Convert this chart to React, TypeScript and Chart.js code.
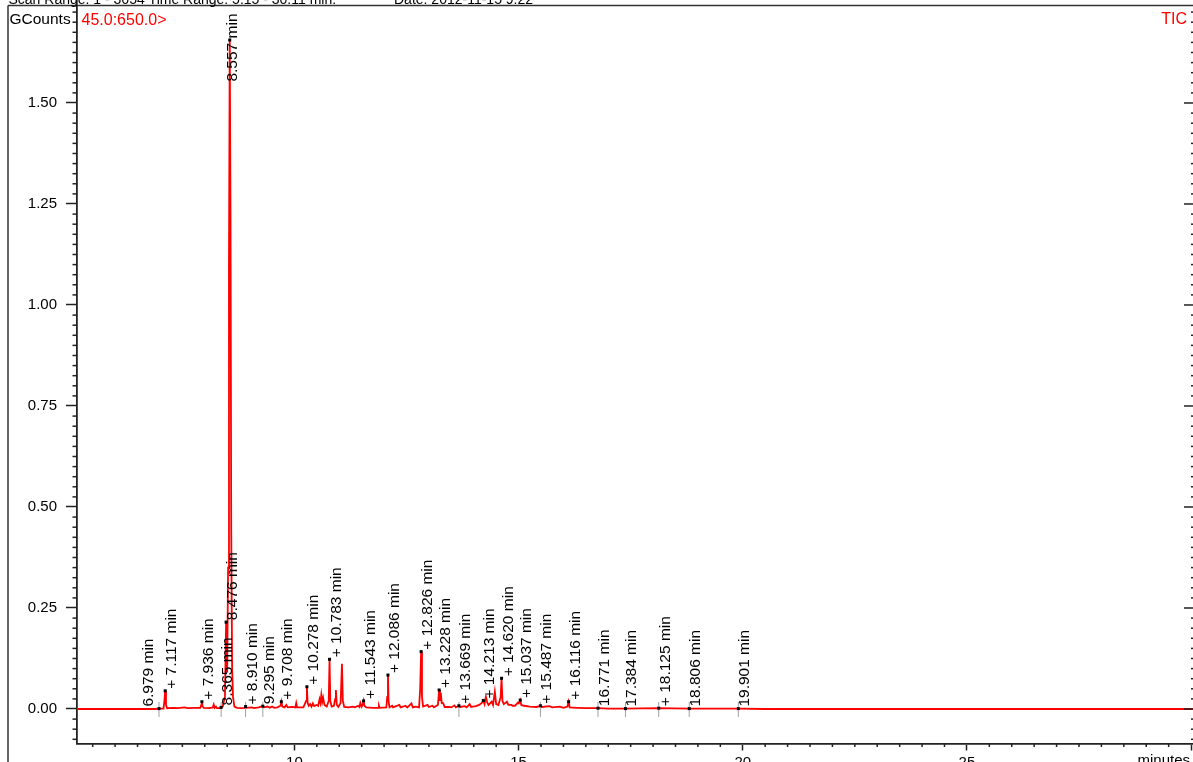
import { useEffect, useRef } from "react";
import { Chart, registerables } from "chart.js";

Chart.register(...registerables);

// ---- data ----
const traceTimes = [
  5.15, 6.9, 6.979, 7.08, 7.1, 7.117, 7.135, 7.16, 7.3, 7.4, 7.55, 7.62, 7.8, 7.9, 7.925, 7.936, 7.95, 7.98,
  8.1, 8.18, 8.2, 8.22, 8.25, 8.27, 8.34, 8.365, 8.4, 8.45, 8.476, 8.5, 8.52, 8.54, 8.557, 8.575, 8.59, 8.61,
  8.63, 8.66, 8.72, 8.8, 8.89, 8.91, 8.93, 9.05, 9.1, 9.2, 9.295, 9.32, 9.4, 9.45, 9.5, 9.55, 9.62, 9.69,
  9.708, 9.73, 9.78, 9.82, 9.85, 9.95, 10.02, 10.04, 10.06, 10.2, 10.26, 10.278, 10.295, 10.32, 10.35, 10.38,
  10.41, 10.44, 10.5, 10.53, 10.56, 10.58, 10.6, 10.62, 10.64, 10.67, 10.72, 10.765, 10.783, 10.8, 10.83,
  10.88, 10.91, 10.925, 10.945, 10.98, 11.03, 11.06, 11.08, 11.11, 11.2, 11.3, 11.35, 11.42, 11.45, 11.47,
  11.5, 11.525, 11.543, 11.56, 11.6, 11.75, 11.87, 11.885, 11.9, 12.05, 12.07, 12.086, 12.1, 12.12, 12.18,
  12.2, 12.34, 12.37, 12.48, 12.5, 12.52, 12.61, 12.64, 12.7, 12.78, 12.805, 12.826, 12.845, 12.87, 12.97,
  13.0, 13.08, 13.11, 13.2, 13.228, 13.245, 13.265, 13.285, 13.32, 13.35, 13.46, 13.5, 13.57, 13.6, 13.669,
  13.7, 13.8, 13.84, 13.91, 13.94, 13.98, 14.05, 14.12, 14.18, 14.213, 14.24, 14.27, 14.3, 14.33, 14.4,
  14.43, 14.47, 14.5, 14.55, 14.6, 14.62, 14.64, 14.67, 14.74, 14.77, 14.84, 14.87, 14.92, 14.985, 15.005,
  15.037, 15.06, 15.12, 15.25, 15.4, 15.487, 15.52, 15.69, 15.75, 15.92, 16.0, 16.09, 16.116, 16.14, 16.3,
  16.5, 16.771, 17.0, 17.384, 18.125, 18.806, 19.901, 20.5, 30.11,
];
const traceValues = [
  0, 0, 0.001, 0.001, 0.02, 0.045, 0.01, 0.002, 0.003, 0.002, 0.004, 0.002, 0.003, 0.003, 0.011, 0.018, 0.006, 0.003,
  0.002, 0.004, 0.011, 0.003, 0.006, 0.002, 0.002, 0.004, 0.006, 0.03, 0.215, 0.09, 0.35, 1.1, 1.656, 1.2, 0.45, 0.1,
  0.03, 0.006, 0.003, 0.002, 0.003, 0.006, 0.003, 0.004, 0.002, 0.004, 0.007, 0.004, 0.006, 0.003, 0.006, 0.003, 0.004, 0.008,
  0.018, 0.006, 0.004, 0.01, 0.004, 0.005, 0.004, 0.015, 0.004, 0.004, 0.02, 0.055, 0.015, 0.008, 0.012, 0.006,
  0.014, 0.007, 0.01, 0.008, 0.024, 0.015, 0.035, 0.018, 0.028, 0.01, 0.006, 0.02, 0.123, 0.02, 0.006,
  0.008, 0.025, 0.047, 0.01, 0.005, 0.015, 0.112, 0.02, 0.005, 0.004, 0.006, 0.004, 0.008, 0.005, 0.015,
  0.006, 0.012, 0.02, 0.008, 0.004, 0.003, 0.003, 0.008, 0.003, 0.004, 0.03, 0.084, 0.02, 0.004, 0.008,
  0.004, 0.01, 0.004, 0.008, 0.005, 0.004, 0.014, 0.004, 0.006, 0.004, 0.05, 0.142, 0.03, 0.006, 0.01,
  0.005, 0.008, 0.004, 0.01, 0.047, 0.02, 0.04, 0.015, 0.014, 0.005, 0.005, 0.004, 0.009, 0.004, 0.008,
  0.005, 0.007, 0.004, 0.012, 0.005, 0.006, 0.007, 0.01, 0.015, 0.021, 0.012, 0.03, 0.016, 0.01, 0.018,
  0.01, 0.043, 0.012, 0.01, 0.03, 0.076, 0.02, 0.012, 0.018, 0.01, 0.01, 0.008, 0.008, 0.016, 0.014,
  0.022, 0.01, 0.008, 0.006, 0.005, 0.008, 0.005, 0.007, 0.004, 0.006, 0.003, 0.006, 0.018, 0.004, 0.003,
  0.002, 0.002, 0.001, 0.001, 0.002, 0.001, 0.001, 0, 0,
];

const peakTimes = [
  6.979, 7.117, 7.936, 8.365, 8.476, 8.557, 8.91, 9.295, 9.708, 10.278, 10.783, 11.543, 12.086,
  12.826, 13.228, 13.669, 14.213, 14.62, 15.037, 15.487, 16.116, 16.771, 17.384, 18.125, 18.806, 19.901,
];
const peakPlus = [
  false, true, true, false, false, false, true, false, true, true, true, true, true,
  true, true, true, true, true, true, true, true, false, false, true, false, false,
];
const baselineMarkTimes = [6.979, 8.365, 8.91, 9.295, 13.669, 15.487, 16.771, 17.384, 18.125, 18.806, 19.901];

const xMajorTicks = [10, 15, 20, 25, 30];
const yMajorTicks = [0, 0.25, 0.5, 0.75, 1.0, 1.25, 1.5];
const X_MIN = 5.15;
const X_MAX = 30.11;
const Y_MIN = -0.0854;
const Y_MAX = 1.7413;

const headerScan = "Scan Range: 1 - 3654 Time Range: 5.15 - 30.11 min.";
const headerDate = "Date: 2012-11-15 9:22";
const yUnit = "GCounts";
const massRange = "45.0:650.0>";
const traceName = "TIC";
const xUnit = "minutes";

const FAMILY = "Arial, 'Liberation Sans', Helvetica, sans-serif";

function apexValue(t: number): number {
  let best = 0;
  let bd = Infinity;
  traceTimes.forEach((tt, i) => {
    const d = Math.abs(tt - t);
    if (d < bd) {
      bd = d;
      best = i;
    }
  });
  return traceValues[best];
}

const overlayPlugin = {
  id: "chromOverlay",
  afterDraw(chart: any) {
    const ctx: CanvasRenderingContext2D = chart.ctx;
    const a = chart.chartArea;
    const xs = chart.scales.x;
    const ys = chart.scales.y;
    const line = (x1: number, y1: number, x2: number, y2: number) => {
      ctx.beginPath();
      ctx.moveTo(x1, y1);
      ctx.lineTo(x2, y2);
      ctx.stroke();
    };
    ctx.save();

    // frame
    ctx.strokeStyle = "#333";
    ctx.lineWidth = 1.5;
    line(8, a.top, 8, 762);
    line(8, a.top, 1200, a.top);
    line(a.left, 0, a.left, a.top);

    // minor ticks + right-side ticks
    ctx.strokeStyle = "#222";
    ctx.lineWidth = 1.5;
    const yStep = 0.025;
    for (let k = Math.ceil(ys.min / yStep); k * yStep <= ys.max + 1e-9; k++) {
      const y = ys.getPixelForValue(k * yStep);
      const major = k % 10 === 0;
      if (!major) line(a.left - 4.5, y, a.left, y);
      line(a.right - (major ? 12 : 5), y, a.right, y);
    }
    const xStep = 0.5;
    for (let k = Math.ceil(xs.min / xStep); k * xStep <= xs.max + 1e-9; k++) {
      if (k % 10 === 0) continue;
      const x = xs.getPixelForValue(k * xStep);
      line(x, a.bottom, x, a.bottom + 3.5);
    }

    // baseline marks
    const y0 = ys.getPixelForValue(0);
    ctx.strokeStyle = "#a0a0a0";
    ctx.lineWidth = 1;
    for (const t of baselineMarkTimes) {
      const x = xs.getPixelForValue(t);
      line(x, y0 - 7, x, y0 + 8);
    }

    // peak labels
    ctx.font = `15.5px ${FAMILY}`;
    ctx.fillStyle = "#000";
    const placed: { x1: number; x2: number; y1: number; y2: number }[] = [];
    const order = peakTimes.map((_, i) => i).sort((p, q) => peakTimes[q] - peakTimes[p]);
    for (const i of order) {
      const t = peakTimes[i];
      const v = apexValue(t);
      const px = xs.getPixelForValue(t);
      const py = ys.getPixelForValue(v);
      ctx.fillRect(px - 1.5, py - 1.5, 3, 3);
      const text = (peakPlus[i] ? "+ " : "") + t.toFixed(3) + " min";
      const len = ctx.measureText(text).width;
      let start = py - 2;
      let base = px + 11;
      if (start - len < a.top + 8) {
        start = a.top + 8 + len;
        base = px + 7;
      }
      const hits = (x1: number, x2: number) =>
        placed.some((r) => x1 < r.x2 && x2 > r.x1 && start - len < r.y2 && start > r.y1);
      if (hits(base - 11, base)) base = px - 6;
      placed.push({ x1: base - 11, x2: base, y1: start - len, y2: start });
      ctx.save();
      ctx.translate(base, start);
      ctx.rotate(-Math.PI / 2);
      ctx.textAlign = "left";
      ctx.textBaseline = "alphabetic";
      ctx.fillText(text, 0, 0);
      ctx.restore();
    }

    // texts
    ctx.textAlign = "left";
    ctx.textBaseline = "alphabetic";
    ctx.fillStyle = "#000";
    ctx.font = `14px ${FAMILY}`;
    ctx.fillText(headerScan, 8.5, 4);
    ctx.fillText(headerDate, 394, 4);
    ctx.font = `15.5px ${FAMILY}`;
    ctx.fillText(yUnit, 9.5, 23.5);
    ctx.fillStyle = "#ff0000";
    ctx.font = `16px ${FAMILY}`;
    ctx.fillText(massRange, 81.5, 25);
    ctx.textAlign = "right";
    ctx.fillText(traceName, 1187, 23.5);
    ctx.fillStyle = "#000";
    ctx.font = `15px ${FAMILY}`;
    ctx.fillText(xUnit, 1190, 765);

    ctx.restore();
  },
};

export default function App() {
  const ref = useRef<HTMLCanvasElement>(null);
  useEffect(() => {
    document.body.style.margin = "0";
    const canvas = ref.current;
    if (!canvas) return;
    const chart = new Chart(canvas, {
      type: "line",
      data: {
        datasets: [
          {
            data: traceTimes.map((t, i) => ({ x: t, y: traceValues[i] })),
            borderColor: "#ff0000",
            borderWidth: 1.8,
            pointRadius: 0,
            tension: 0,
            fill: false,
          },
        ],
      },
      options: {
        responsive: false,
        animation: false,
        events: [],
        layout: { padding: { left: 0, right: 4, top: 5.5, bottom: 0 } },
        plugins: { legend: { display: false }, tooltip: { enabled: false } },
        scales: {
          x: {
            type: "linear",
            min: X_MIN,
            max: X_MAX,
            afterFit: (s: any) => {
              s.height = 18.5;
              s.paddingLeft = 0;
              s.paddingRight = 0;
            },
            afterBuildTicks: (s: any) => {
              s.ticks = xMajorTicks.map((v) => ({ value: v }));
            },
            ticks: {
              callback: (v: any) => (Number(v) === 30 ? "" : String(v)),
              font: { family: FAMILY, size: 15 },
              color: "#000",
              padding: 3,
              maxRotation: 0,
              autoSkip: false,
            },
            grid: { drawOnChartArea: false, drawTicks: true, tickLength: 7, tickColor: "#222", tickWidth: 1.5 },
            border: { display: true, color: "#222", width: 1.8 },
          },
          y: {
            type: "linear",
            min: Y_MIN,
            max: Y_MAX,
            afterFit: (s: any) => {
              s.width = 77;
              s.paddingTop = 0;
              s.paddingBottom = 0;
            },
            afterBuildTicks: (s: any) => {
              s.ticks = yMajorTicks.map((v) => ({ value: v }));
            },
            ticks: {
              callback: (v: any) => Number(v).toFixed(2),
              font: { family: FAMILY, size: 15 },
              color: "#000",
              padding: 9,
              autoSkip: false,
            },
            grid: { drawOnChartArea: false, drawTicks: true, tickLength: 11, tickColor: "#222", tickWidth: 1.5 },
            border: { display: true, color: "#222", width: 1.8 },
          },
        },
      },
      plugins: [overlayPlugin],
    } as any);
    return () => chart.destroy();
  }, []);
  return (
    <div style={{ position: "relative", width: 1193, height: 762, overflow: "hidden", background: "#fff" }}>
      <canvas ref={ref} width={1200} height={762} style={{ display: "block" }} />
    </div>
  );
}
